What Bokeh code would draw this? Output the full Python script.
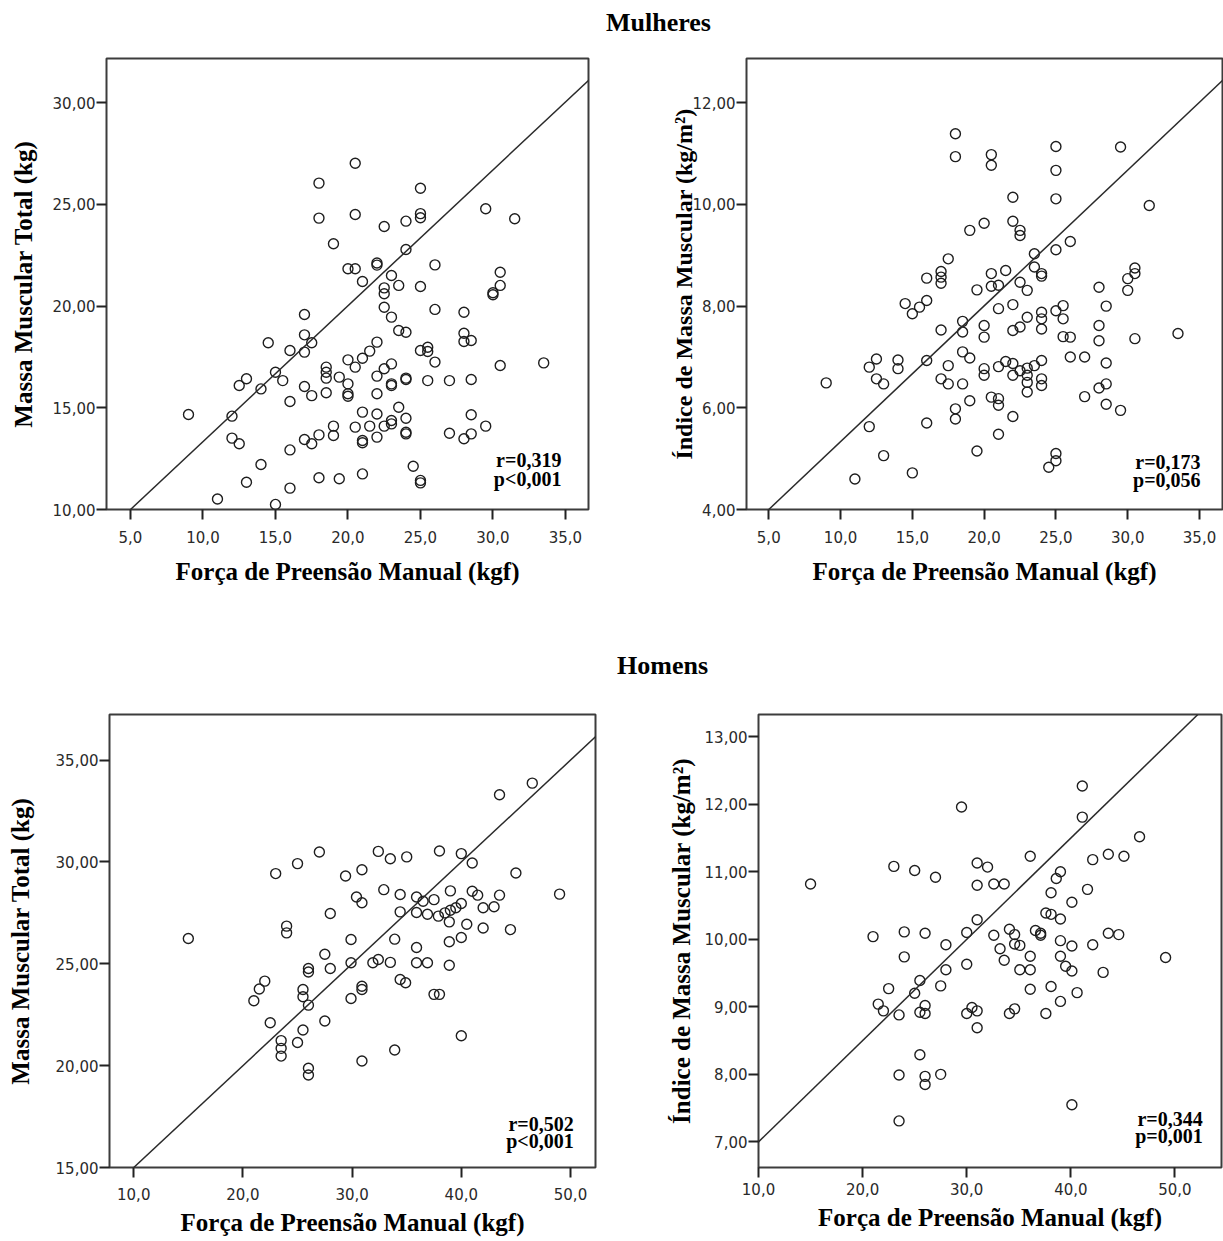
from bokeh.plotting import figure
from bokeh.models import Range1d, FixedTicker, Slope, Label
from bokeh.layouts import column, row
from bokeh.embed import file_html
from bokeh.resources import INLINE

# ---------------- data ----------------
# Mulheres: força de preensão (kgf) x massa muscular total (kg)
w_grip_mmt = [18.0, 18.0, 19.0, 17.0, 17.0, 17.5, 14.5, 16.0, 17.0, 15.0, 15.5, 13.0, 12.5, 14.0,
              18.5, 18.5, 18.5, 19.4, 17.0, 17.5, 18.5, 16.0, 9.0, 12.0, 12.0, 12.5, 17.0, 17.5,
              18.0, 19.0, 19.0, 16.0, 14.0, 13.0, 16.0, 18.0, 19.4, 11.0, 15.0,
              20.5, 25.0, 25.0, 25.0, 20.5, 22.5, 24.0, 29.5, 31.5, 24.0, 22.0, 22.0, 20.0, 20.5,
              21.0, 23.0, 23.5, 22.5, 22.5, 22.5, 25.0, 26.0, 26.0, 23.0, 23.5, 24.0, 28.0, 28.0,
              28.5, 28.0, 30.5, 30.5, 30.0, 30.0, 22.0, 21.5, 21.0, 20.5, 20.0, 20.0, 20.0, 20.0,
              22.0, 22.5, 23.0, 23.0, 23.0, 24.0, 24.0, 22.0, 25.0, 25.5, 25.5, 26.0, 25.5, 27.0,
              28.5, 30.5, 33.5, 21.0, 20.5, 21.5, 22.0, 22.5, 23.0, 23.0, 23.5, 24.0, 24.0, 24.0,
              22.0, 21.0, 21.0, 27.0, 28.0, 28.5, 28.5, 29.5, 21.0, 24.5, 25.0, 25.0]
w_mmt = [26.05, 24.33, 23.07, 19.59, 18.59, 18.2, 18.2, 17.82, 17.74, 16.75, 16.34, 16.43, 16.1, 15.93,
         17.0, 16.75, 16.46, 16.51, 16.05, 15.6, 15.74, 15.31, 14.67, 14.59, 13.51, 13.23, 13.44, 13.23,
         13.67, 14.1, 13.64, 12.93, 12.21, 11.34, 11.05, 11.56, 11.51, 10.52, 10.25,
         27.03, 25.8, 24.55, 24.35, 24.51, 23.92, 24.18, 24.79, 24.3, 22.79, 22.12, 22.02, 21.84, 21.84,
         21.21, 21.51, 21.02, 20.9, 20.61, 19.95, 20.97, 22.03, 19.84, 19.46, 18.8, 18.72, 19.7, 18.67,
         18.31, 18.26, 21.67, 21.02, 20.66, 20.56, 18.23, 17.79, 17.44, 17.0, 17.36, 16.18, 15.69, 15.57,
         16.56, 16.92, 17.16, 16.18, 16.1, 16.46, 16.39, 15.69, 17.82, 17.98, 17.77, 17.25, 16.34, 16.34,
         16.39, 17.08, 17.21, 14.79, 14.05, 14.1, 14.7, 14.1, 14.38, 14.21, 15.03, 14.49, 13.8, 13.72,
         13.56, 13.39, 13.28, 13.75, 13.48, 13.72, 14.66, 14.1, 11.75, 12.13, 11.43, 11.31]

# Mulheres: força de preensão (kgf) x índice de massa muscular (kg/m2)
w_grip_imm = [18.0, 18.0, 19.0, 17.5, 17.0, 17.0, 17.0, 16.0, 19.5, 14.5, 15.0, 15.5, 16.0, 18.5,
              18.5, 17.0, 18.5, 19.0, 16.0, 17.5, 12.5, 12.0, 14.0, 14.0, 12.5, 13.0, 9.0, 17.0,
              17.5, 18.5, 19.0, 18.0, 18.0, 16.0, 12.0, 19.5, 13.0, 15.0, 11.0,
              25.0, 25.0, 25.0, 29.5, 20.5, 20.5, 22.0, 22.0, 22.5, 22.5, 20.0, 31.5, 26.0, 25.0,
              23.5, 23.5, 24.0, 24.0, 21.5, 20.5, 21.0, 20.5, 22.5, 23.0, 30.5, 30.5, 30.0, 30.0,
              28.0, 28.5, 20.0, 20.0, 21.0, 22.0, 23.0, 22.5, 22.0, 24.0, 24.0, 24.0, 25.0, 25.5,
              25.5, 25.5, 26.0, 28.0, 28.0, 30.5, 33.5, 26.0, 27.0, 28.5, 20.0, 20.0, 21.0, 21.5,
              22.0, 22.0, 22.5, 23.0, 23.0, 23.0, 23.0, 23.5, 24.0, 24.0, 24.0, 20.5, 21.0, 21.0,
              22.0, 21.0, 27.0, 28.0, 28.5, 28.5, 29.5, 25.0, 25.0, 24.5]
w_imm = [11.39, 10.94, 9.49, 8.93, 8.68, 8.57, 8.45, 8.55, 8.32, 8.05, 7.85, 7.98, 8.11, 7.7,
         7.49, 7.53, 7.1, 6.98, 6.93, 6.83, 6.96, 6.8, 6.94, 6.77, 6.57, 6.47, 6.49, 6.57,
         6.47, 6.47, 6.14, 5.98, 5.78, 5.7, 5.63, 5.15, 5.06, 4.72, 4.6,
         11.14, 10.67, 10.11, 11.13, 10.98, 10.77, 10.14, 9.67, 9.49, 9.39, 9.63, 9.98, 9.27, 9.11,
         9.03, 8.77, 8.64, 8.59, 8.7, 8.64, 8.41, 8.39, 8.47, 8.31, 8.75, 8.64, 8.54, 8.31,
         8.37, 8.0, 7.62, 7.39, 7.95, 8.03, 7.78, 7.59, 7.52, 7.88, 7.75, 7.55, 7.91, 8.01,
         7.75, 7.4, 7.39, 7.62, 7.32, 7.36, 7.46, 7.0, 7.0, 6.88, 6.77, 6.64, 6.81, 6.91,
         6.87, 6.64, 6.73, 6.78, 6.64, 6.5, 6.31, 6.83, 6.93, 6.57, 6.44, 6.21, 6.18, 6.05,
         5.83, 5.48, 6.22, 6.39, 6.47, 6.07, 5.95, 5.1, 4.96, 4.83]

# Homens: força de preensão (kgf) x massa muscular total (kg)
m_grip_mmt = [15.0, 23.0, 25.0, 27.0, 28.0, 24.0, 24.0, 27.5, 28.0, 26.0, 26.0, 22.0, 21.5, 21.0,
              25.5, 25.5, 26.0, 22.5, 27.5, 25.5, 25.0, 23.5, 23.5, 23.5, 26.0, 26.0,
              46.5, 43.5, 32.4, 33.5, 35.0, 38.0, 40.0, 41.0, 29.4, 30.9, 45.0, 49.0, 30.4, 30.9,
              32.9, 34.4, 35.9, 35.9, 36.5, 37.5, 34.4, 36.9, 37.9, 38.5, 39.0, 39.5, 40.0, 39.0,
              41.0, 41.5, 42.0, 43.0, 43.5, 38.9, 40.5, 42.0, 44.5, 29.9, 33.9, 35.9, 38.9, 40.0,
              29.9, 31.9, 32.4, 33.5, 35.9, 36.9, 38.9, 34.4, 34.9, 30.9, 30.9, 29.9, 37.5, 38.0,
              40.0, 33.9, 30.9]
m_mmt = [26.24, 29.43, 29.92, 30.49, 27.47, 26.85, 26.52, 25.47, 24.77, 24.77, 24.6, 24.15, 23.76, 23.19,
         23.74, 23.38, 22.97, 22.11, 22.19, 21.75, 21.14, 21.23, 20.85, 20.47, 19.87, 19.54,
         33.87, 33.3, 30.52, 30.16, 30.25, 30.54, 30.41, 29.95, 29.31, 29.62, 29.46, 28.42, 28.28, 28.0,
         28.64, 28.4, 28.28, 27.52, 28.07, 28.15, 27.55, 27.43, 27.34, 27.5, 27.63, 27.75, 27.96, 28.58,
         28.56, 28.37, 27.75, 27.8, 28.37, 27.06, 26.94, 26.76, 26.68, 26.19, 26.21, 25.8, 26.08, 26.29,
         25.05, 25.05, 25.21, 25.07, 25.05, 25.05, 24.93, 24.23, 24.07, 23.9, 23.74, 23.3, 23.5, 23.5,
         21.47, 20.77, 20.23]

# Homens: força de preensão (kgf) x índice de massa muscular (kg/m2)
m_grip_imm = [29.5, 15.0, 23.0, 25.0, 27.0, 31.0, 31.0, 21.0, 24.0, 26.0, 24.0, 28.0, 28.0, 25.5,
              27.5, 22.5, 25.0, 21.5, 22.0, 23.5, 25.5, 26.0, 26.0, 30.0, 31.0, 30.0, 30.0, 30.5,
              31.0, 31.0, 25.5, 23.5, 26.0, 26.0, 27.5, 23.5,
              41.1, 41.1, 46.6, 36.1, 42.1, 43.6, 45.1, 32.0, 32.6, 33.6, 39.0, 38.6, 38.1, 41.6,
              40.1, 37.6, 38.1, 39.0, 32.6, 34.1, 34.6, 34.6, 35.1, 36.6, 37.1, 37.1, 39.0, 40.1,
              42.1, 43.6, 44.6, 33.2, 33.6, 36.1, 35.1, 36.1, 39.0, 39.5, 40.1, 43.1, 49.1, 36.1,
              38.1, 39.0, 40.6, 34.1, 34.6, 37.6, 40.1]
m_imm = [11.96, 10.82, 11.08, 11.02, 10.92, 11.13, 10.8, 10.04, 10.11, 10.09, 9.74, 9.92, 9.55, 9.39,
         9.31, 9.27, 9.2, 9.04, 8.94, 8.88, 8.92, 9.02, 8.9, 10.1, 10.29, 9.63, 8.9, 8.99,
         8.94, 8.69, 8.29, 7.99, 7.97, 7.85, 8.0, 7.31,
         12.27, 11.81, 11.52, 11.23, 11.18, 11.26, 11.23, 11.07, 10.82, 10.82, 11.0, 10.9, 10.69, 10.74,
         10.55, 10.39, 10.37, 10.3, 10.06, 10.15, 10.07, 9.93, 9.91, 10.13, 10.09, 10.06, 9.98, 9.9,
         9.92, 10.09, 10.07, 9.86, 9.69, 9.75, 9.55, 9.55, 9.75, 9.6, 9.53, 9.51, 9.73, 9.26,
         9.3, 9.08, 9.21, 8.9, 8.97, 8.9, 7.55]

# fitted lines (intercept, slope)
fit_w_mmt = (6.66, 0.668)
fit_w_imm = (2.665, 0.267)
fit_m_mmt = (10.0, 0.5)
fit_m_imm = (5.5, 0.15)

# statistics
stats_w_mmt = ["r=0,319", "p<0,001"]
stats_w_imm = ["r=0,173", "p=0,056"]
stats_m_mmt = ["r=0,502", "p<0,001"]
stats_m_imm = ["r=0,344", "p=0,001"]

# ticks
x_ticks_w = [5, 10, 15, 20, 25, 30, 35]
x_labels_w = ["5,0", "10,0", "15,0", "20,0", "25,0", "30,0", "35,0"]
x_ticks_m = [10, 20, 30, 40, 50]
x_labels_m = ["10,0", "20,0", "30,0", "40,0", "50,0"]
y_ticks_w_mmt = [10, 15, 20, 25, 30]
y_labels_w_mmt = ["10,00", "15,00", "20,00", "25,00", "30,00"]
y_ticks_w_imm = [4, 6, 8, 10, 12]
y_labels_w_imm = ["4,00", "6,00", "8,00", "10,00", "12,00"]
y_ticks_m_mmt = [15, 20, 25, 30, 35]
y_labels_m_mmt = ["15,00", "20,00", "25,00", "30,00", "35,00"]
y_ticks_m_imm = [7, 8, 9, 10, 11, 12, 13]
y_labels_m_imm = ["7,00", "8,00", "9,00", "10,00", "11,00", "12,00", "13,00"]

X_TITLE = "Força de Preensão Manual (kgf)"
Y_MMT = "Massa Muscular Total (kg)"
Y_IMM = "Índice de Massa Muscular (kg/m²)"

SERIF = "Liberation Serif"
SANS = "DejaVu Sans"


def panel(xs, ys, xr, yr, xt, xl, yt, yl, ytitle, fit, stats, stat_pos,
          frame, borders, x_std=(11, 12), y_std=(1, 13), ytitle_size="25px"):
    fw, fh = frame
    bl, br, bt, bb = borders
    p = figure(width=bl + fw + br, height=bt + fh + bb,
               x_range=Range1d(*xr), y_range=Range1d(*yr),
               output_backend="svg", toolbar_location=None,
               min_border_left=bl, min_border_right=br,
               min_border_top=bt, min_border_bottom=bb)
    p.background_fill_color = "white"
    p.border_fill_color = "white"
    p.outline_line_color = "#3c3c3c"
    p.outline_line_width = 2
    p.xgrid.visible = False
    p.ygrid.visible = False

    p.xaxis.ticker = FixedTicker(ticks=xt)
    p.xaxis.major_label_overrides = {t: s for t, s in zip(xt, xl)}
    p.yaxis.ticker = FixedTicker(ticks=yt)
    p.yaxis.major_label_overrides = {t: s for t, s in zip(yt, yl)}
    for ax in (p.xaxis, p.yaxis):
        ax.axis_line_color = None
        ax.major_tick_out = 10
        ax.major_tick_in = 0
        ax.major_tick_line_color = "#222222"
        ax.major_tick_line_width = 2
        ax.minor_tick_line_color = None
        ax.major_label_text_font = SANS
        ax.major_label_text_font_size = "15px"
        ax.major_label_text_color = "#2a2a2a"
        ax.axis_label_text_font = SERIF
        ax.axis_label_text_font_style = "bold"
        ax.axis_label_text_font_size = "25px"
        ax.axis_label_text_color = "black"
    p.yaxis.axis_label_text_font_size = ytitle_size
    p.xaxis.axis_label = X_TITLE
    p.yaxis.axis_label = ytitle
    p.xaxis.major_label_standoff = x_std[0]
    p.xaxis.axis_label_standoff = x_std[1]
    p.yaxis.major_label_standoff = y_std[0]
    p.yaxis.axis_label_standoff = y_std[1]

    p.add_layout(Slope(gradient=fit[1], y_intercept=fit[0],
                       line_color="#2a2a2a", line_width=1.5))
    p.scatter(xs, ys, marker="circle", size=10, fill_color=None,
              line_color="#1e1e1e", line_width=1.4)

    sx, sy1, sy2 = stat_pos
    for txt, yy in zip(stats, (sy1, sy2)):
        p.add_layout(Label(x=sx, y=yy, text=txt, text_align="right",
                           text_baseline="middle", text_font=SERIF,
                           text_font_style="bold", text_font_size="20px",
                           text_color="black"))
    return p


def heading(text, w, h, cx, cy):
    t = figure(width=w, height=h, x_range=Range1d(0, w), y_range=Range1d(0, h),
               output_backend="svg", toolbar_location=None,
               x_axis_location=None, y_axis_location=None,
               min_border=0)
    t.outline_line_color = None
    t.xgrid.visible = False
    t.ygrid.visible = False
    t.add_layout(Label(x=cx, y=h - cy, text=text, text_align="center",
                       text_baseline="middle", text_font=SERIF,
                       text_font_style="bold", text_font_size="26px",
                       text_color="black"))
    return t


t1 = heading("Mulheres", 1223, 48, 658, 22)

p1 = panel(w_grip_mmt, w_mmt, (3.345, 36.59), (10, 32.18), x_ticks_w, x_labels_w,
           y_ticks_w_mmt, y_labels_w_mmt, Y_MMT, fit_w_mmt, stats_w_mmt,
           (34.72, 12.41, 11.52), (482, 451), (106, 58, 10, 131),
           x_std=(11, 12), y_std=(1, 13))
p2 = panel(w_grip_imm, w_imm, (3.45, 36.6), (4, 12.87), x_ticks_w, x_labels_w,
           y_ticks_w_imm, y_labels_w_imm, Y_IMM, fit_w_imm, stats_w_imm,
           (35.07, 4.94, 4.59), (476, 451), (100, 1, 10, 131),
           x_std=(11, 12), y_std=(1, -7), ytitle_size="24px")

t2 = heading("Homens", 1223, 60, 662, 25)

p3 = panel(m_grip_mmt, m_mmt, (7.78, 52.29), (15, 37.24), x_ticks_m, x_labels_m,
           y_ticks_m_mmt, y_labels_m_mmt, Y_MMT, fit_m_mmt, stats_m_mmt,
           (50.3, 17.16, 16.32), (486, 453), (109, 63, 14, 74),
           x_std=(10, 6), y_std=(1, 19))
p4 = panel(m_grip_imm, m_imm, (10, 54.47), (6.62, 13.33), x_ticks_m, x_labels_m,
           y_ticks_m_imm, y_labels_m_imm, Y_IMM, fit_m_imm, stats_m_imm,
           (52.66, 7.337, 7.088), (463, 458), (100, 2, 14, 69),
           x_std=(5, 6), y_std=(1, 7))

layout = column(t1, row(p1, p2), t2, row(p3, p4))

open("out.html", "w").write(file_html(layout, INLINE))
